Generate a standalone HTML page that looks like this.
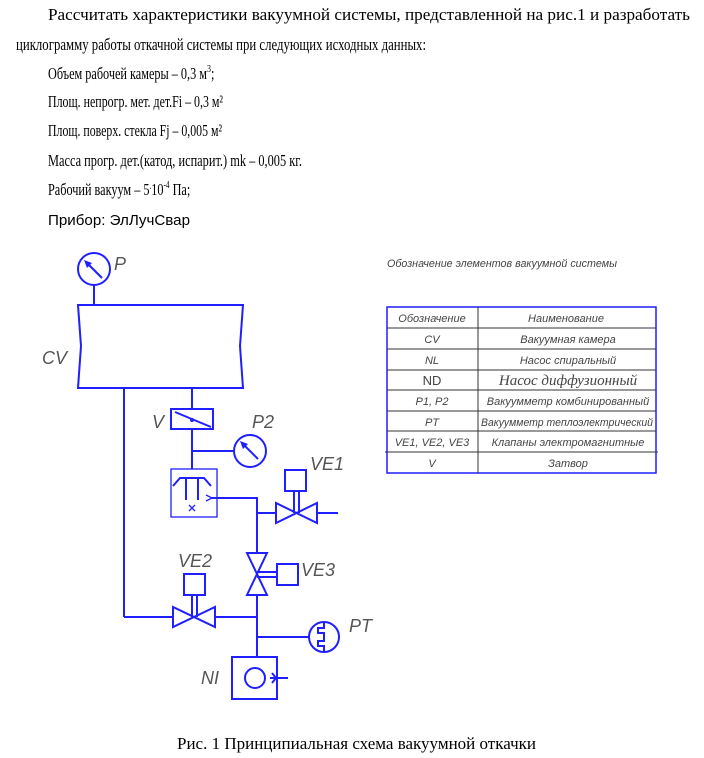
<!DOCTYPE html>
<html><head><meta charset="utf-8"><style>
html,body{margin:0;padding:0;background:#fff;width:704px;height:758px;overflow:hidden}
svg{display:block}
.t{font-family:"Liberation Serif",serif;font-size:17px;fill:#000}
.s{font-family:"Liberation Sans",sans-serif;font-size:15px;fill:#000}
.l{font-family:"Liberation Sans",sans-serif;font-style:italic;font-size:18px;fill:#555;font-weight:normal}
.tb{font-family:"Liberation Sans",sans-serif;font-style:italic;font-size:11px;fill:#444}
.b{stroke:#1f1fff;stroke-width:2;fill:none}
.bf{stroke:#1f1fff;stroke-width:2;fill:#fff}
</style></head><body>
<svg width="704" height="758" viewBox="0 0 704 758" xmlns="http://www.w3.org/2000/svg">
<text class="t" x="48" y="20" textLength="642" lengthAdjust="spacingAndGlyphs">Рассчитать характеристики вакуумной системы, представленной на рис.1 и разработать</text>
<text class="t" x="16" y="50" textLength="410" lengthAdjust="spacingAndGlyphs">циклограмму работы откачной системы при следующих исходных данных:</text>
<g transform="translate(48,79) scale(0.72,1)"><text class="t" x="0" y="0">Объем рабочей камеры – 0,3 м<tspan dy="-7" font-size="11">3</tspan><tspan dy="7">;</tspan></text></g>
<text class="t" x="48" y="107" textLength="175" lengthAdjust="spacingAndGlyphs">Площ. непрогр. мет. дет.Fi – 0,3 м²</text>
<text class="t" x="48" y="136" textLength="174" lengthAdjust="spacingAndGlyphs">Площ. поверх. стекла Fj – 0,005 м²</text>
<text class="t" x="48" y="166" textLength="254" lengthAdjust="spacingAndGlyphs">Масса прогр. дет.(катод, испарит.) mk – 0,005 кг.</text>
<g transform="translate(48,195) scale(0.72,1)"><text class="t" x="0" y="0">Рабочий вакуум – 5<tspan dy="-6" font-size="10">.</tspan><tspan dy="6">10</tspan><tspan dy="-7" font-size="10">-4</tspan><tspan dy="7"> Па;</tspan></text></g>
<text class="s" x="48" y="225" textLength="142" lengthAdjust="spacingAndGlyphs">Прибор: ЭлЛучСвар</text>

<!-- diagram -->
<line class="b" x1="94" y1="285" x2="94" y2="305"/>
<circle class="bf" cx="94" cy="269" r="16"/>
<line class="b" x1="102" y1="278" x2="86" y2="262"/>
<polygon points="84,260 92,263 87,268" fill="#1f1fff"/>
<text class="l" x="114" y="270">P</text>
<path class="b" d="M78,305 L243,305 L240,346 L243,388 L78,388 L81,346 Z"/>
<text class="l" x="42" y="364">CV</text>
<line class="b" x1="124" y1="388" x2="124" y2="617"/>
<line class="b" x1="124" y1="617" x2="173" y2="617"/>
<line class="b" x1="192" y1="388" x2="192" y2="409"/>
<rect class="b" x="171" y="409" width="42" height="20"/>
<line class="b" x1="175" y1="412" x2="211" y2="427"/>
<circle cx="192" cy="420" r="2" fill="#1f1fff"/>
<text class="l" x="152" y="428">V</text>
<line class="b" x1="192" y1="429" x2="192" y2="469"/>
<line class="b" x1="192" y1="451" x2="234" y2="451"/>
<circle class="bf" cx="250" cy="451" r="16"/>
<line class="b" x1="258" y1="459" x2="243" y2="444"/>
<polygon points="240,441 248,444 243,449" fill="#1f1fff"/>
<text class="l" x="252" y="428">P2</text>
<rect x="171" y="469" width="46" height="48" fill="none" stroke="#1f1fff" stroke-width="1.3"/>
<path class="b" d="M173,486 L180,478 L204,478 L211,486 M186,478 L186,500 M198,478 L198,500"/>
<path d="M189,505 L195,511 M195,505 L189,511 M206,495 L212,498 L206,501" stroke="#1f1fff" stroke-width="1.3" fill="none"/>
<path class="b" d="M212,498 L257,498 L257,657"/>
<line class="b" x1="257" y1="513" x2="276" y2="513"/>
<path class="b" d="M276,503 L276,523 L317,503 L317,523 Z"/>
<line class="b" x1="317" y1="513" x2="338" y2="513"/>
<line class="b" x1="294" y1="491" x2="294" y2="513"/><line class="b" x1="299" y1="491" x2="299" y2="513"/>
<rect class="bf" x="285" y="470" width="21" height="21"/>
<text class="l" x="310" y="470">VE1</text>
<path class="bf" d="M247,553 L267,553 L247,595 L267,595 Z"/>
<line class="b" x1="257" y1="572" x2="277" y2="572"/><line class="b" x1="257" y1="577" x2="277" y2="577"/>
<rect class="bf" x="277" y="564" width="21" height="21"/>
<text class="l" x="301" y="576">VE3</text>
<path class="bf" d="M173,607 L173,627 L215,607 L215,627 Z"/>
<line class="b" x1="215" y1="617" x2="257" y2="617"/>
<line class="b" x1="192" y1="595" x2="192" y2="617"/><line class="b" x1="197" y1="595" x2="197" y2="617"/>
<rect class="bf" x="184" y="574" width="21" height="21"/>
<text class="l" x="178" y="567">VE2</text>
<line class="b" x1="257" y1="637" x2="309" y2="637"/>
<circle class="bf" cx="324" cy="637" r="15"/>
<path class="b" d="M324,623 L324,628 L318,628 L318,633 L324,633 L324,641 L318,641 L318,646 L324,646 L324,651"/>
<text class="l" x="349" y="632">PT</text>
<rect class="b" x="232" y="657" width="45" height="42"/>
<circle class="b" cx="255" cy="678" r="10"/>
<path class="b" d="M270,678 L288,678 M272,673 L276,678 L272,683"/>
<text class="l" x="201" y="684">NI</text>

<!-- table -->
<text class="tb" x="387" y="267" font-size="12" textLength="230" lengthAdjust="spacingAndGlyphs">Обозначение элементов вакуумной системы</text>
<rect x="387" y="307" width="269" height="166" fill="none" stroke="#1f1fff" stroke-width="1.5"/>
<g stroke="#333" stroke-width="1">
<line x1="478" y1="307" x2="478" y2="473"/>
<line x1="387" y1="328" x2="656" y2="328"/>
<line x1="387" y1="349" x2="656" y2="349"/>
<line x1="387" y1="370" x2="656" y2="370"/>
<line x1="387" y1="390" x2="656" y2="390"/>
<line x1="387" y1="411" x2="656" y2="411"/>
<line x1="387" y1="431" x2="656" y2="431"/>
<line x1="385" y1="452" x2="658" y2="452"/>
</g>
<g class="tb" text-anchor="middle">
<text x="432" y="322">Обозначение</text><text x="566" y="322">Наименование</text>
<text x="432" y="343">CV</text><text x="568" y="343">Вакуумная камера</text>
<text x="432" y="364">NL</text><text x="568" y="364">Насос  спиральный</text>
<text x="432" y="385" font-style="normal" font-size="13">ND</text><text x="568" y="385" font-family="Liberation Serif" font-size="15" fill="#444">Насос диффузионный</text>
<text x="432" y="405">P1, P2</text><text x="568" y="405">Вакуумметр комбинированный</text>
<text x="432" y="426">PT</text><text x="567" y="426" textLength="172" lengthAdjust="spacingAndGlyphs">Вакуумметр теплоэлектрический</text>
<text x="432" y="446">VE1, VE2, VE3</text><text x="568" y="446">Клапаны электромагнитные</text>
<text x="432" y="467">V</text><text x="568" y="467">Затвор</text>
</g>

<text class="t" x="177" y="749" font-size="15" textLength="359" lengthAdjust="spacingAndGlyphs">Рис. 1 Принципиальная схема вакуумной откачки</text>
</svg>
</body></html>
